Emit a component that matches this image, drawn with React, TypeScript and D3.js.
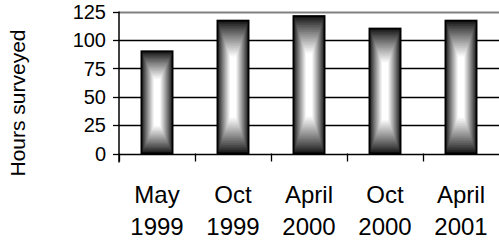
import React from "react";
import * as d3 from "d3";

const categories = ["May 1999", "Oct 1999", "April 2000", "Oct 2000", "April 2001"];
const values = [90, 117, 121, 110, 117];
const yTicks = [0, 25, 50, 75, 100, 125];
const yTitle = "Hours surveyed";

const W = 499;
const H = 241;
const left = 119;
const right = 499;
const top = 11.5;
const bottom = 153.5;

export default function App() {
  const x = d3.scaleBand<string>().domain(categories).range([left, right]).padding(0);
  const y = d3.scaleLinear().domain([0, 125]).range([bottom, top]);
  const bw = x.bandwidth();
  const barW = bw * 0.41;
  const steps = 26;
  const color = d3.interpolateRgb("#161616", "#ffffff");
  const font = "'Liberation Sans', Arial, sans-serif";

  return (
    <svg
      width={W}
      height={H}
      style={{ position: "absolute", left: 0, top: 0, display: "block", background: "#fff" }}
    >
      {yTicks.map((t) => (
        <line
          key={"g" + t}
          x1={left}
          x2={right}
          y1={Math.round(y(t)) + 0.5}
          y2={Math.round(y(t)) + 0.5}
          stroke={t === 125 ? "#808080" : "#000"}
          strokeWidth={t === 125 ? 2 : 1.3}
        />
      ))}
      {categories.map((c, i) => {
        const x0 = (x(c) as number) + (bw - barW) / 2;
        const y0 = y(values[i]);
        const h = bottom - y0;
        const insetYMax = (h * 0.67) / 2;
        const rects = d3.range(steps).map((k) => {
          const t = k / steps;
          const ix = (t * barW) / 2;
          const iy = t * insetYMax;
          return (
            <rect
              key={k}
              x={x0 + ix}
              y={y0 + iy}
              width={barW - 2 * ix}
              height={h - 2 * iy}
              fill={color(Math.min(1, Math.pow(t / 0.8, 0.9)))}
            />
          );
        });
        return (
          <g key={c}>
            {rects}
            <rect x={x0} y={y0} width={barW} height={h} fill="none" stroke="#000" strokeWidth={1.8} />
          </g>
        );
      })}
      <line x1={left} x2={left} y1={top} y2={bottom + 9} stroke="#000" strokeWidth={1.5} />
      {yTicks.map((t) => (
        <g key={"t" + t}>
          <line x1={left - 6} x2={left} y1={Math.round(y(t)) + 0.5} y2={Math.round(y(t)) + 0.5} stroke="#000" strokeWidth={1.3} />
          <text
            x={left - 13}
            y={y(t)}
            dy="0.36em"
            textAnchor="end"
            fontFamily={font}
            fontSize={20}
            fill="#000"
          >
            {t}
          </text>
        </g>
      ))}
      {categories.map((c) => (
        <line
          key={"xt" + c}
          x1={Math.round(x(c) as number) + 0.5}
          x2={Math.round(x(c) as number) + 0.5}
          y1={bottom}
          y2={bottom + 8}
          stroke="#000"
          strokeWidth={1.3}
        />
      ))}
      {categories.map((c) => {
        const [a, b] = c.split(" ");
        const cx = (x(c) as number) + bw / 2;
        return (
          <text key={"l" + c} textAnchor="middle" fontFamily={font} fontSize={24} fill="#000">
            <tspan x={cx} y={203}>{a}</tspan>
            <tspan x={cx} y={235}>{b}</tspan>
          </text>
        );
      })}
      <text
        transform={`translate(${25},${103}) rotate(-90)`}
        textAnchor="middle"
        fontFamily={font}
        fontSize={21}
        fill="#000"
      >
        {yTitle}
      </text>
    </svg>
  );
}
